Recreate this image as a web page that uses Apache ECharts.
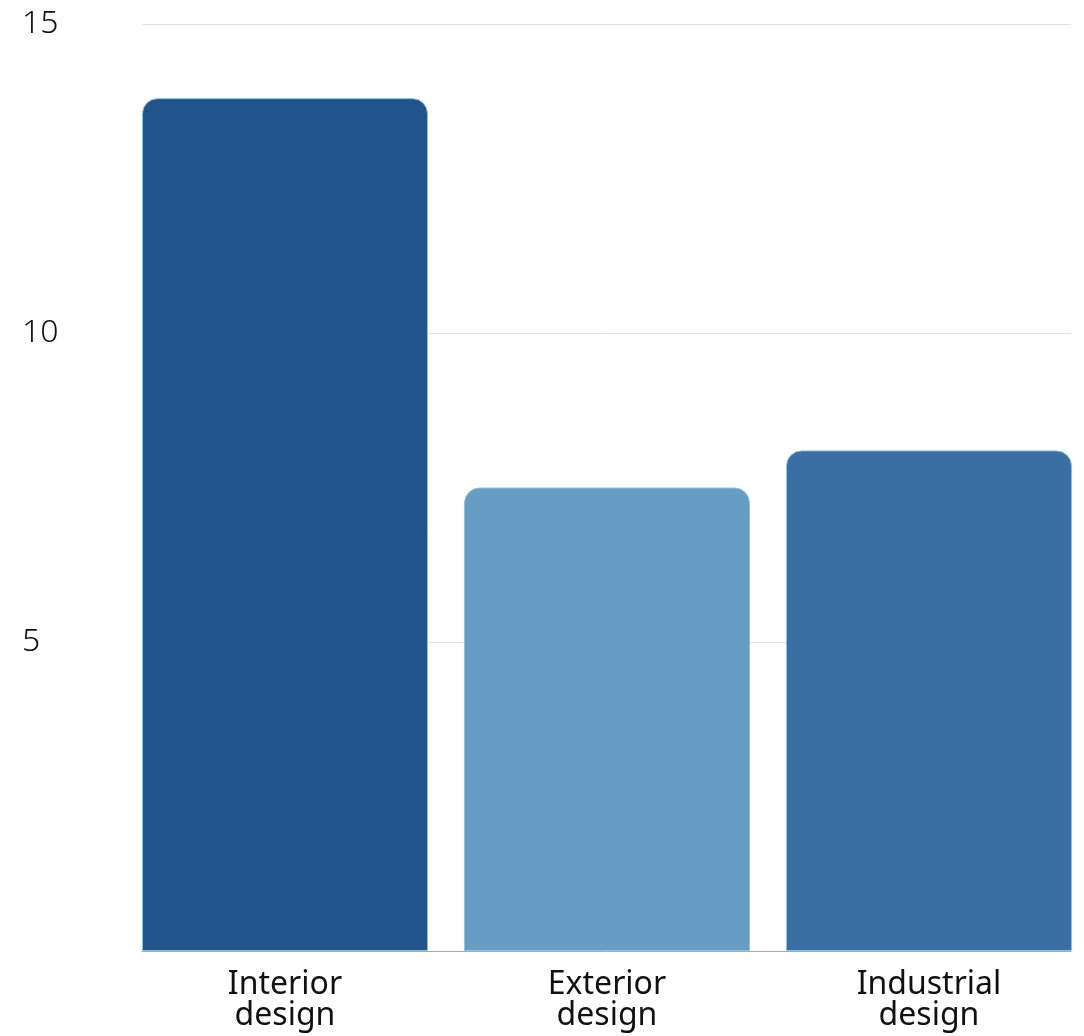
<!DOCTYPE html>
<html>
<head>
<meta charset="utf-8">
<script src="https://cdn.jsdelivr.net/npm/echarts@6/dist/echarts.min.js"></script>
<style>
html,body{margin:0;padding:0;background:#fff;}
#chart{width:1084px;height:1036px;}
</style>
</head>
<body>
<div id="chart"></div>
<script>
const categories = ['Interior\ndesign', 'Exterior\ndesign', 'Industrial\ndesign'];
const values = [13.8, 7.5, 8.1];
const barColors = ['#22548c', '#679cc3', '#3a6fa3'];
const yTicks = [0, 5, 10, 15];

const chart = echarts.init(document.getElementById('chart'));
const fontFam = '"Noto Sans", sans-serif';
chart.setOption({
  animation: false,
  grid: [
    {left: 142, right: 13, top: 24, bottom: 85, outerBoundsMode: 'none', containLabel: false},
    {left: 124, width: 966, top: 24, bottom: 85, outerBoundsMode: 'none', containLabel: false}
  ],
  xAxis: [
    {gridIndex: 0, type: 'category', data: categories,
     axisLine: {show: true, lineStyle: {color: '#aaaaaa', width: 1}},
     axisTick: {show: false}, axisLabel: {show: false}},
    {gridIndex: 1, type: 'category', data: categories,
     axisLine: {show: false}, axisTick: {show: false},
     axisLabel: {show: true, color: '#111', fontSize: 32, fontFamily: fontFam,
                 lineHeight: 31, margin: 18, align: 'center'}}
  ],
  yAxis: [
    {gridIndex: 0, type: 'value', min: yTicks[0], max: yTicks[yTicks.length-1], interval: 5,
     axisLine: {show: false}, axisTick: {show: false},
     axisLabel: {color: '#111', fontSize: 32, fontWeight: 300, fontFamily: fontFam,
                 align: 'left', margin: 120,
                 formatter: v => v === 0 ? '' : String(v)},
     splitLine: {show: true, lineStyle: {color: '#e0e0e0', width: 1}}},
    {gridIndex: 1, type: 'value', min: 0, max: 15, show: false, splitLine: {show: false}}
  ],
  series: [{
    type: 'bar',
    xAxisIndex: 1, yAxisIndex: 1,
    barWidth: 286,
    data: values.map((v, i) => ({
      value: v,
      itemStyle: {color: barColors[i], borderColor: '#8ec3df', borderWidth: 1,
                  borderRadius: [15, 15, 0, 0]}
    }))
  }]
});
</script>
</body>
</html>
